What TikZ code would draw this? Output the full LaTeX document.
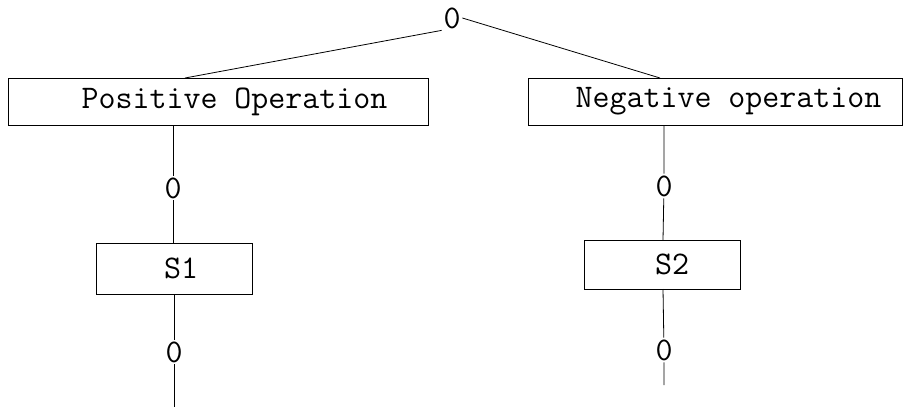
\documentclass[tikz,border=0pt]{standalone}
\begin{document}
\begin{tikzpicture}[x=1pt,y=-1pt,
  every node/.style={font=\fontsize{33}{33}\selectfont\ttfamily},
  line width=0.8pt,
  box/.style={draw, rectangle, inner sep=0pt},
  zero/.style={inner sep=1.5pt}]
\useasboundingbox (0,0) rectangle (904,407);
% top
\node[zero] (top) at (452,18) {0};
% boxes
\node[box, minimum width=420pt, minimum height=47pt] (pos) at (218,101.5) {\hspace*{33pt}Positive Operation};
\node[box, minimum width=374pt, minimum height=47pt] (neg) at (715.5,101.5) {\hspace*{26pt}Negative operation};
\coordinate (pt) at (185,78);
\coordinate (nt) at (660,78);
\draw (top.south west) -- (pt);
\draw (top.east) -- (nt);
% left branch
\node[zero] (z1) at (173,188) {0};
\node[box, minimum width=156pt, minimum height=51pt] (s1) at (174,268.5) {\hspace*{14pt}S1};
\node[zero] (z2) at (174,352) {0};
\coordinate (pb) at (173,125);
\coordinate (s1t) at (173,243);
\coordinate (s1b) at (174,294);
\coordinate (le) at (174,407);
\draw (pb) -- (z1) -- (s1t);
\draw (s1b) -- (z2) -- (le);
% right branch
\node[zero] (z3) at (664,186) {0};
\node[box, minimum width=156pt, minimum height=49pt] (s2) at (662,264.5) {\hspace*{20pt}S2};
\node[zero] (z4) at (664,350) {0};
\coordinate (nb) at (664,125);
\coordinate (s2t) at (663,240);
\coordinate (s2b) at (663,289);
\coordinate (re) at (664,385);
\draw (nb) -- (z3) -- (s2t);
\draw (s2b) -- (z4) -- (re);
\end{tikzpicture}
\end{document}
